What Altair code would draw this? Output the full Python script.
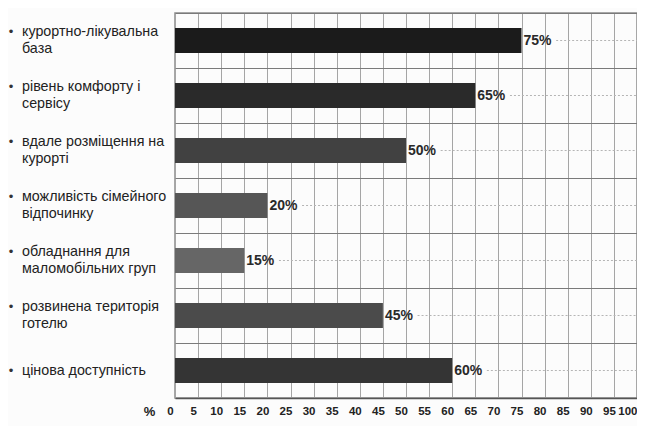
import altair as alt
import pandas as pd

categories = [
    "курортно-лікувальна|база",
    "рівень комфорту і|сервісу",
    "вдале розміщення на|курорті",
    "можливість сімейного|відпочинку",
    "обладнання для|маломобільних груп",
    "розвинена територія|готелю",
    "цінова доступність",
]
values = [75, 65, 50, 20, 15, 45, 60]
value_labels = ["75%", "65%", "50%", "20%", "15%", "45%", "60%"]
shades = ["#1b1b1b", "#2a2a2a", "#414141", "#565656", "#666666", "#4b4b4b", "#343434"]
line_counts = [2, 2, 2, 2, 2, 2, 1]
x_ticks = list(range(0, 101, 5))

df = pd.DataFrame({
    "cat": categories,
    "value": values,
    "vlabel": value_labels,
    "shade": shades,
    "lines": line_counts,
})
df["line_start"] = df["value"] + 7.5
df["line_end"] = 100
df["bullet"] = "•"

order = categories

x_scale = alt.Scale(domain=[0, 100], nice=False, zero=True)
x_axis = alt.Axis(
    values=x_ticks, ticks=False, grid=True, gridColor="#a5a5a5",
    domainColor="#555555", domainWidth=1.5, labelOverlap=False, labelFlush=False,
    labelFont="Liberation Sans", labelFontSize=11.5, labelFontWeight="bold",
    labelColor="#222222", labelPadding=7,
    labelOffset={"condition": {"test": "datum.value == 100", "value": 0}, "value": -5},
    labelAlign={"condition": {"test": "datum.value == 100", "value": "right"}, "value": "center"},
    title="%", titleX=-26, titleY=17, titleFont="Liberation Sans",
    titleFontSize=13, titleFontWeight="bold", titleColor="#222222",
    titleBaseline="alphabetic",
)


def xq(field):
    return alt.X(f"{field}:Q", scale=x_scale, axis=x_axis)


y_enc = alt.Y(
    "cat:N",
    sort=order,
    scale=alt.Scale(paddingInner=0, paddingOuter=0),
    axis=alt.Axis(
        labels=False, ticks=False, domain=False, title=None,
        grid=True, bandPosition=0, gridColor="#7a7a7a", gridWidth=1,
    ),
)

base = alt.Chart(df)

bars = base.mark_bar(size=25).encode(
    x=xq("value"),
    y=y_enc,
    color=alt.Color("shade:N", scale=None),
)

dots = base.mark_rule(strokeDash=[2, 2], color="#b5b5b5", strokeWidth=1).encode(
    x=xq("line_start"),
    x2="line_end:Q",
    y=y_enc,
)

vtext = base.mark_text(
    align="left", baseline="middle", dx=2, font="Liberation Sans",
    fontSize=14, fontWeight="bold", color="#2a2a2a",
).encode(
    x=xq("value"),
    y=y_enc,
    text="vlabel:N",
)

layers = [bars, dots, vtext]
for n, shift in [(2, -8.5), (1, 0)]:
    sub = base.transform_filter(f"datum.lines == {n}")
    layers.append(
        sub.mark_text(
            align="left", baseline="middle", dy=shift, lineBreak="|", lineHeight=17,
            font="Liberation Sans", fontSize=14.3, color="#222222",
        ).encode(x=alt.value(-153), y=y_enc, text="cat:N")
    )
    layers.append(
        sub.mark_text(
            align="center", baseline="middle", dy=shift, font="Liberation Sans",
            fontSize=13, color="#333333",
        ).encode(x=alt.value(-164), y=y_enc, text="bullet:N")
    )

chart = alt.layer(*layers).properties(
    width=462,
    height=385,
    autosize=alt.AutoSizeParams(type="none"),
    padding={"left": 167, "top": 5, "right": 0, "bottom": 30},
    background="#fcfcfc",
).configure_view(
    stroke="#8a8a8a", strokeWidth=1.5,
)

chart.save("out.html", embed_options={"renderer": "svg", "actions": False})
